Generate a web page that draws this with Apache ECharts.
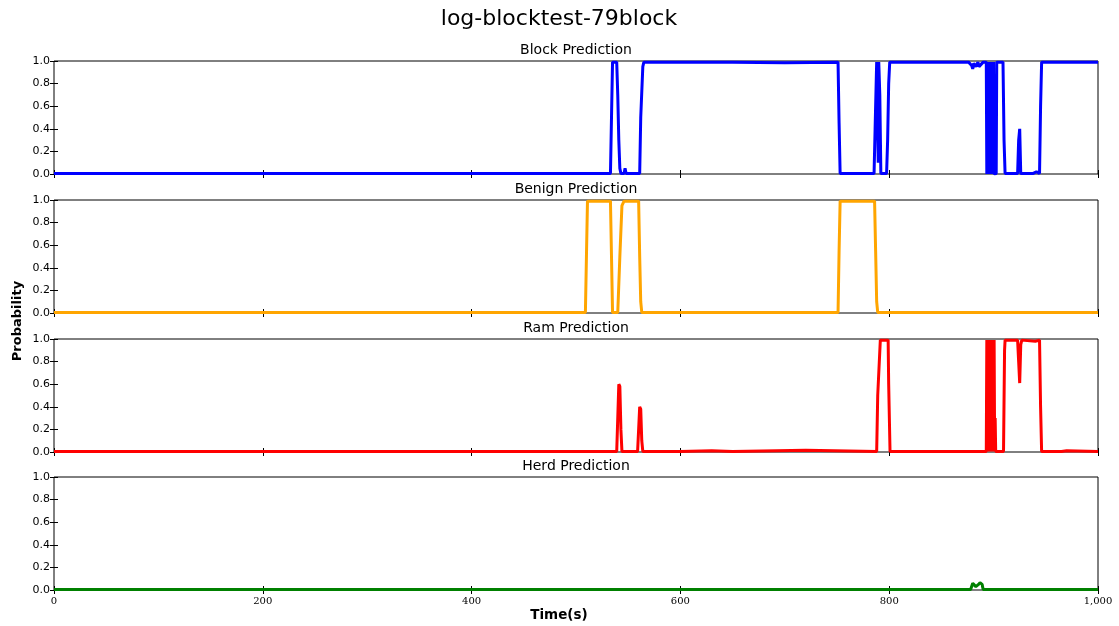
<!DOCTYPE html>
<html>
<head>
<meta charset="utf-8">
<title>log-blocktest-79block</title>
<script src="https://cdn.jsdelivr.net/npm/echarts@6/dist/echarts.min.js"></script>
<style>
  html, body { margin: 0; padding: 0; background: #fff; }
  #chart { width: 1119px; height: 626px; }
</style>
</head>
<body>
<div id="chart"></div>
<script>
// Per-class prediction probability over time, as [time (s), probability] vertices.
const blockSeries = [
  [0, 0.005], [533, 0.005], [534, 0.5], [535, 0.99], [539, 0.99], [540, 0.7], [541, 0.3],
  [542, 0.05], [543, 0.005], [546, 0.005], [547, 0.05], [548, 0.005], [561, 0.005],
  [562, 0.5], [564, 0.95], [565, 0.99], [650, 0.99], [700, 0.985], [751, 0.99], [752, 0.45],
  [753, 0.005], [785.5, 0.005], [786.5, 0.4], [788, 0.99], [789, 0.99], [789.5, 0.1],
  [790, 0.99], [791, 0.7], [792, 0.005], [797.5, 0.005], [798.5, 0.3], [799.5, 0.8],
  [800.5, 0.99], [876, 0.99], [877, 0.98], [879, 0.96], [880, 0.93], [881, 0.98], [883, 0.95],
  [885, 0.99], [886, 0.95], [888, 0.97], [890, 0.99], [893, 0.99], [893.5, 0.0], [894, 0.99],
  [894.5, 0.05], [895, 0.95], [895.5, 0.0], [896, 0.99], [896.5, 0.0], [897, 0.99],
  [897.5, 0.1], [898, 0.99], [898.5, 0.0], [899, 0.99], [899.5, 0.7], [900, 0.99],
  [900.5, 0.0], [901, 0.005], [902.5, 0.005], [903, 0.99], [909, 0.99], [910, 0.3],
  [911, 0.005], [923, 0.005], [924, 0.3], [925, 0.4], [926, 0.005], [938, 0.005],
  [938.5, 0.02], [941, 0.02], [942, 0.005], [944, 0.005], [945, 0.6], [946, 0.99],
  [1000, 0.99]
];
const benignSeries = [
  [0, 0.005], [509, 0.005], [510, 0.5], [511, 0.99], [533, 0.99], [534, 0.5], [535, 0.005],
  [540, 0.005], [542, 0.5], [544, 0.95], [545, 0.97], [546, 0.99], [560, 0.99], [561, 0.5],
  [562, 0.1], [563, 0.005], [751, 0.005], [752, 0.55], [753, 0.99], [786, 0.99], [787, 0.55],
  [788, 0.1], [789, 0.005], [1000, 0.005]
];
const ramSeries = [
  [0, 0.005], [539, 0.005], [540, 0.3], [541, 0.6], [542, 0.58], [543, 0.2], [544, 0.005],
  [559, 0.005], [560, 0.2], [561, 0.4], [562, 0.38], [563, 0.1], [564, 0.005], [600, 0.005],
  [601, 0.012], [630, 0.012], [631, 0.005], [650, 0.005], [651, 0.015], [720, 0.015],
  [721, 0.005], [788, 0.005], [789, 0.5], [791.5, 0.99], [799, 0.99], [799.5, 0.6],
  [800.8, 0.005], [893, 0.005], [893.5, 0.99], [894, 0.005], [894.5, 0.95], [895, 0.05],
  [895.5, 0.99], [896, 0.005], [896.5, 0.99], [897, 0.005], [897.5, 0.9], [898, 0.005],
  [898.5, 0.99], [899, 0.005], [899.5, 0.3], [900, 0.005], [900.5, 0.99], [901, 0.005],
  [901.5, 0.3], [902, 0.005], [909.5, 0.005], [910.5, 0.9], [911, 0.99], [923, 0.99],
  [924, 0.8], [925, 0.61], [926, 0.95], [927, 0.99], [940, 0.98], [944, 0.99], [945, 0.4],
  [946, 0.005], [965, 0.005], [966, 0.012], [970, 0.012], [971, 0.005], [1000, 0.005]
];
const herdSeries = [
  [0, 0.005], [836, 0.005], [837, 0.012], [838, 0.005], [873, 0.005], [874, 0.012],
  [875, 0.005], [878, 0.005], [880, 0.06], [881, 0.07], [883, 0.03], [885, 0.045],
  [887, 0.065], [889, 0.05], [890, 0.005], [1000, 0.005]
];

const panelTitles = ['Block Prediction', 'Benign Prediction', 'Ram Prediction', 'Herd Prediction'];
const panelData = [blockSeries, benignSeries, ramSeries, herdSeries];
const panelColors = ['#0000ff', '#ffa500', '#ff0000', '#008000'];

const chart = echarts.init(document.getElementById('chart'));

const plotLeft = 54, plotRight = 21;
const panelTops = [61, 200, 339, 477];
const panelHeight = 113;
const plotCenterX = 54 + (1119 - 54 - 21) / 2;

const grids = [], xAxes = [], yAxes = [], series = [], graphics = [];

panelTops.forEach((top, i) => {
  grids.push({
    left: plotLeft, right: plotRight, top: top, height: panelHeight,
    show: true, borderColor: '#000', borderWidth: 1, backgroundColor: '#fff'
  });
  ['bottom', 'top'].forEach(pos => {
    xAxes.push({
      type: 'value', gridIndex: i, position: pos,
      min: 0, max: 1000, interval: 200,
      axisLine: { show: false },
      axisTick: { show: true, inside: true, length: 4, lineStyle: { color: '#000', width: 1 } },
      splitLine: { show: false },
      axisLabel: {
        show: pos === 'bottom' && i === panelTops.length - 1,
        fontFamily: 'DejaVu Serif', fontSize: 10, color: '#000', margin: 6
      }
    });
  });
  ['left', 'right'].forEach(pos => {
    yAxes.push({
      type: 'value', gridIndex: i, position: pos,
      min: 0, max: 1, interval: 0.2,
      axisLine: { show: false },
      axisTick: { show: true, inside: true, length: 4, lineStyle: { color: '#000', width: 1 } },
      splitLine: { show: false },
      axisLabel: {
        show: pos === 'left',
        fontFamily: 'DejaVu Sans', fontSize: 11, color: '#000', margin: 4,
        formatter: v => v.toFixed(1)
      }
    });
  });
  series.push({
    type: 'line',
    name: panelTitles[i],
    xAxisIndex: i * 2, yAxisIndex: i * 2,
    data: panelData[i],
    showSymbol: false, symbol: 'none',
    clip: true,
    lineStyle: { color: panelColors[i], width: 3 },
    z: 3
  });
  graphics.push({
    type: 'text',
    style: {
      text: panelTitles[i], x: plotCenterX, y: top - 11,
      textAlign: 'center', textVerticalAlign: 'middle',
      fontFamily: 'DejaVu Sans', fontSize: 14, fill: '#000'
    }
  });
});

graphics.push({
  type: 'text',
  style: {
    text: 'log-blocktest-79block', x: 559, y: 19,
    textAlign: 'center', textVerticalAlign: 'middle',
    fontFamily: 'DejaVu Sans', fontSize: 22, fill: '#000'
  }
});
graphics.push({
  type: 'text',
  style: {
    text: 'Time(s)', x: 559, y: 615,
    textAlign: 'center', textVerticalAlign: 'middle',
    fontFamily: 'DejaVu Sans', fontSize: 13.5, fontWeight: 'bold', fill: '#000'
  }
});
graphics.push({
  type: 'text',
  x: 18, y: 321, rotation: Math.PI / 2,
  style: {
    text: 'Probability', x: 0, y: 0,
    textAlign: 'center', textVerticalAlign: 'middle',
    fontFamily: 'DejaVu Sans', fontSize: 13, fontWeight: 'bold', fill: '#000'
  }
});

chart.setOption({
  animation: false,
  backgroundColor: '#fff',
  grid: grids,
  xAxis: xAxes,
  yAxis: yAxes,
  series: series,
  graphic: graphics
});
</script>
</body>
</html>
